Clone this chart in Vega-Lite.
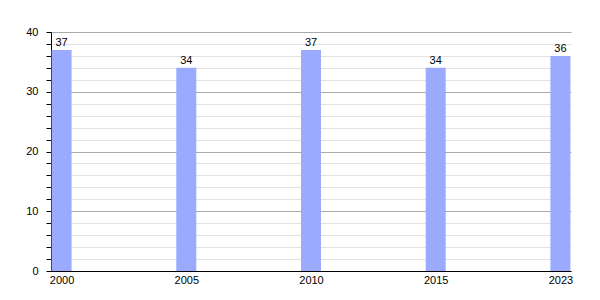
{
  "$schema": "https://vega.github.io/schema/vega-lite/v6.json",
  "width": 520,
  "height": 239,
  "autosize": {"type": "none"},
  "padding": {"left": 51, "top": 32, "right": 29, "bottom": 29},
  "background": "white",
  "config": {
    "view": {"stroke": null},
    "font": "Liberation Sans"
  },
  "data": {
    "values": [
      {"year": "2000", "value": 37},
      {"year": "2005", "value": 34},
      {"year": "2010", "value": 37},
      {"year": "2015", "value": 34},
      {"year": "2023", "value": 36}
    ]
  },
  "encoding": {
    "x": {
      "field": "year",
      "type": "ordinal",
      "scale": {"type": "point", "padding": 0.085},
      "axis": {
        "title": null,
        "labelAngle": 0,
        "ticks": false,
        "domainColor": "black",
        "domainWidth": 1,
        "labelColor": "black",
        "labelFontSize": 11,
        "labelPadding": 3,
        "grid": false
      }
    },
    "y": {
      "field": "value",
      "type": "quantitative",
      "scale": {"domain": [0, 40], "nice": false},
      "axis": {
        "title": null,
        "values": [0, 2, 4, 6, 8, 10, 12, 14, 16, 18, 20, 22, 24, 26, 28, 30, 32, 34, 36, 38, 40],
        "labelExpr": "datum.value % 10 === 0 ? datum.label : ''",
        "domainColor": "black",
        "tickColor": "black",
        "tickSize": 5,
        "labelPadding": 8,
        "labelColor": "black",
        "labelFontSize": 11,
        "grid": true,
        "gridColor": {"condition": {"test": "datum.value % 10 === 0", "value": "#aaaaaa"}, "value": "#e2e2e2"},
        "gridWidth": 1
      }
    }
  },
  "layer": [
    {
      "mark": {"type": "bar", "size": 20, "color": "#99aaff"}
    },
    {
      "mark": {"type": "text", "dy": -7, "fontSize": 11, "color": "black"},
      "encoding": {"text": {"field": "value", "type": "quantitative"}}
    }
  ]
}
